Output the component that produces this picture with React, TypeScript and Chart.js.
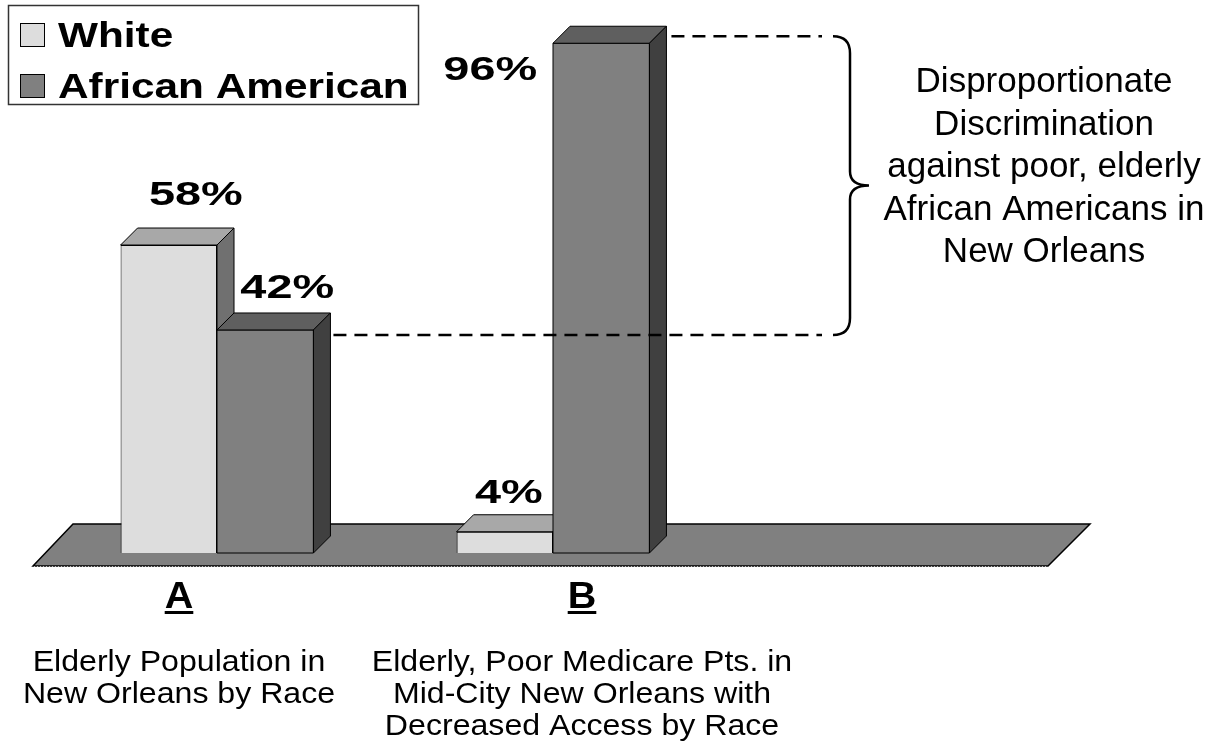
import React, { useEffect, useRef } from "react";
import { Chart, registerables } from "chart.js";

Chart.register(...registerables);

// ---- data ----
const categories = ["A", "B", ""];
const seriesNames = ["White", "African American"];
const whiteValues = [58, 4, null];
const africanAmericanValues = [42, 96, null];
const valueLabels = [
  ["58%", "4%", ""],
  ["42%", "96%", ""],
];
const categoryDescriptions = [
  ["Elderly Population in", "New Orleans by Race"],
  ["Elderly, Poor Medicare Pts. in", "Mid-City New Orleans with", "Decreased Access by Race"],
  [],
];
const annotationLines = [
  "Disproportionate",
  "Discrimination",
  "against poor, elderly",
  "African Americans in",
  "New Orleans",
];

// ---- style ----
const FONT = "'Liberation Sans', Arial, Helvetica, sans-serif";
const frontColors = ["#DDDDDD", "#808080"];
const topColors = ["#A8A8A8", "#5F5F5F"];
const sideColors = ["#707070", "#404040"];
const DEPTH = 17;
// label offsets relative to bar centre / front top (manual placement as in original)
const labelDx = [
  [27, 4, 0],
  [22, -111, 0],
];
const labelDy = [
  [-40, -29, 0],
  [-32, 37, 0],
];
const catLabelDx = [-38, 29, 0];

function stretchText(
  ctx: CanvasRenderingContext2D,
  text: string,
  x: number,
  y: number,
  font: string,
  sx: number,
  align: CanvasTextAlign = "center"
) {
  ctx.save();
  ctx.font = font;
  ctx.translate(x, y);
  ctx.scale(sx, 1);
  ctx.textAlign = align;
  ctx.textBaseline = "alphabetic";
  ctx.fillStyle = "#000";
  ctx.fillText(text, 0, 0);
  ctx.restore();
}

function poly(ctx: CanvasRenderingContext2D, pts: number[][], fill: string, lw = 1) {
  ctx.beginPath();
  ctx.moveTo(pts[0][0], pts[0][1]);
  for (let i = 1; i < pts.length; i++) ctx.lineTo(pts[i][0], pts[i][1]);
  ctx.closePath();
  ctx.fillStyle = fill;
  ctx.fill();
  ctx.lineWidth = lw;
  ctx.strokeStyle = "#000";
  ctx.lineJoin = "miter";
  ctx.stroke();
}

const bar3dPlugin = {
  id: "bar3d",
  beforeDatasetsDraw(chart: any) {
    const ctx: CanvasRenderingContext2D = chart.ctx;
    const a = chart.chartArea;
    const yFront = a.bottom + 13;
    const yBack = a.bottom - 29;
    ctx.save();
    poly(
      ctx,
      [
        [a.left - 16, yFront],
        [a.left + 24, yBack],
        [a.right + 33, yBack],
        [a.right - 9, yFront],
      ],
      "#808080",
      1.5
    );
    ctx.beginPath();
    ctx.moveTo(a.left - 15, yFront + 0.5);
    ctx.lineTo(a.right - 10, yFront + 0.5);
    ctx.setLineDash([1, 2]);
    ctx.strokeStyle = "#bbbbbb";
    ctx.lineWidth = 1;
    ctx.stroke();
    ctx.restore();
  },
  afterDatasetsDraw(chart: any) {
    const ctx: CanvasRenderingContext2D = chart.ctx;
    const d = DEPTH;
    ctx.save();
    const n = chart.data.labels.length;
    for (let i = 0; i < n; i++) {
      for (let ds = 0; ds < chart.data.datasets.length; ds++) {
        const el: any = chart.getDatasetMeta(ds).data[i];
        const v = chart.data.datasets[ds].data[i];
        if (!el || v == null) continue;
        const x0 = el.x - el.width / 2;
        const x1 = el.x + el.width / 2;
        const y = el.y;
        const b = el.base;
        if (ds > 0) {
          poly(ctx, [[x0, y], [x1, y], [x1, b], [x0, b]], frontColors[ds]);
        }
        poly(ctx, [[x0, y], [x0 + d, y - d], [x1 + d, y - d], [x1, y]], topColors[ds]);
        poly(ctx, [[x1, y], [x1 + d, y - d], [x1 + d, b - d], [x1, b]], sideColors[ds]);
      }
    }
    // value labels
    for (let ds = 0; ds < chart.data.datasets.length; ds++) {
      const meta = chart.getDatasetMeta(ds);
      for (let i = 0; i < n; i++) {
        const el: any = meta.data[i];
        const txt = valueLabels[ds][i];
        if (!el || !txt) continue;
        stretchText(ctx, txt, el.x + labelDx[ds][i], el.y + labelDy[ds][i], `bold 33px ${FONT}`, 1.42);
      }
    }
    ctx.restore();
  },
  afterDraw(chart: any) {
    const ctx: CanvasRenderingContext2D = chart.ctx;
    const ys = chart.scales.y;
    const xs = chart.scales.x;
    ctx.save();
    // category labels + descriptions
    for (let i = 0; i < categories.length; i++) {
      const label = categories[i];
      if (!label) continue;
      const cx = xs.getPixelForValue(i) + catLabelDx[i];
      const font = `bold 36px ${FONT}`;
      stretchText(ctx, label, cx, 608, font, 1.1);
      ctx.font = font;
      const w = ctx.measureText(label).width * 1.1;
      ctx.fillStyle = "#000";
      ctx.fillRect(cx - w / 2, 611, w, 3);
      const lines = categoryDescriptions[i];
      lines.forEach((ln, k) => {
        stretchText(ctx, ln, cx, 671 + k * 32, `30px ${FONT}`, 1.07);
      });
    }
    // dashed reference lines
    const metaAA = chart.getDatasetMeta(1);
    const elA: any = metaAA.data[0];
    const elB: any = metaAA.data[1];
    const braceX = 850;
    const yTop = ys.getPixelForValue(africanAmericanValues[1] as number) - 7;
    const yBot = ys.getPixelForValue(africanAmericanValues[0] as number) + 5;
    ctx.setLineDash([13, 8]);
    ctx.lineWidth = 2.5;
    ctx.strokeStyle = "#000";
    ctx.beginPath();
    ctx.moveTo(elB.x + elB.width / 2 + DEPTH + 5, yTop);
    ctx.lineTo(braceX - 28, yTop);
    ctx.moveTo(elA.x + elA.width / 2 + DEPTH + 3, yBot);
    ctx.lineTo(braceX - 28, yBot);
    ctx.stroke();
    ctx.setLineDash([]);
    // brace
    const mid = (yTop + yBot) / 2;
    const r = 17;
    ctx.beginPath();
    ctx.moveTo(braceX - r, yTop);
    ctx.quadraticCurveTo(braceX, yTop, braceX, yTop + r);
    ctx.lineTo(braceX, mid - 14);
    ctx.quadraticCurveTo(braceX, mid, braceX + 19, mid);
    ctx.moveTo(braceX + 19, mid);
    ctx.quadraticCurveTo(braceX, mid, braceX, mid + 14);
    ctx.lineTo(braceX, yBot - r);
    ctx.quadraticCurveTo(braceX, yBot, braceX - r, yBot);
    ctx.lineWidth = 2.5;
    ctx.stroke();
    // annotation text
    annotationLines.forEach((ln, k) => {
      stretchText(ctx, ln, 1044, 92 + k * 42.5, `35px ${FONT}`, 1.0);
    });
    // legend
    ctx.fillStyle = "#fff";
    ctx.fillRect(8, 5, 410, 99);
    ctx.lineWidth = 1.5;
    ctx.strokeStyle = "#333";
    ctx.strokeRect(8.5, 5.5, 410, 99);
    chart.data.datasets.forEach((ds: any, k: number) => {
      const top = 23 + k * 51;
      ctx.fillStyle = ds.backgroundColor;
      ctx.fillRect(20, top, 25, 24);
      ctx.lineWidth = 1;
      ctx.strokeStyle = "#000";
      ctx.strokeRect(20.5, top + 0.5, 24, 23);
      stretchText(ctx, ds.label, 58, top + 24, `bold 35px ${FONT}`, 1.21, "left");
    });
    ctx.restore();
  },
};

export default function App() {
  const ref = useRef<HTMLCanvasElement | null>(null);
  useEffect(() => {
    if (!ref.current) return;
    const chart = new Chart(ref.current, {
      type: "bar",
      data: {
        labels: categories,
        datasets: [
          {
            label: seriesNames[0],
            data: whiteValues,
            backgroundColor: frontColors[0],
            borderColor: "#000",
            borderWidth: 1,
          },
          {
            label: seriesNames[1],
            data: africanAmericanValues,
            backgroundColor: frontColors[1],
            borderColor: "#000",
            borderWidth: 1,
          },
        ],
      },
      options: {
        responsive: false,
        animation: false,
        devicePixelRatio: 1,
        layout: { padding: { left: 49, right: 169, top: 22, bottom: 197 } },
        datasets: { bar: { categoryPercentage: 0.574, barPercentage: 1 } },
        scales: {
          x: { display: false },
          y: { display: false, min: 0, max: 100 },
        },
        plugins: {
          legend: { display: false },
          tooltip: { enabled: false },
          title: { display: false },
        },
      } as any,
      plugins: [bar3dPlugin],
    });
    return () => chart.destroy();
  }, []);
  return (
    <div style={{ position: "fixed", left: 0, top: 0, width: 1226, height: 750, background: "#fff" }}>
      <canvas ref={ref} width={1226} height={750} style={{ width: 1226, height: 750, display: "block" }} />
    </div>
  );
}
